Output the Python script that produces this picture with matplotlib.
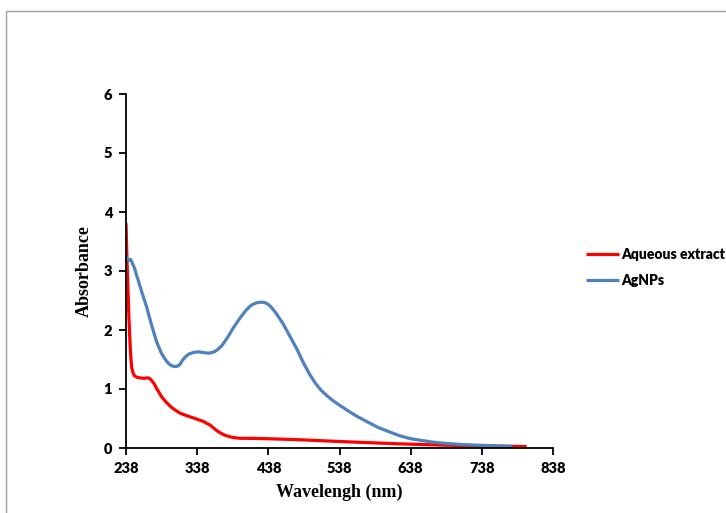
"""
Plot the UV-Vis absorbance spectra of the aqueous extract and the AgNPs.
"""

import matplotlib
matplotlib.use("Agg")
import matplotlib.pyplot as plt
from matplotlib.patches import Rectangle


extract_nm = [238, 239, 240, 241, 242, 243, 244, 245, 246, 248, 250, 253, 257,
	263, 269, 272, 275, 278, 281, 285, 288, 292, 295, 300, 305, 314, 325, 335,
	342, 347, 351, 356, 360, 365, 370, 376, 384, 390, 398, 430, 482, 538, 580,
	623, 680, 716, 760, 801]
extract_abs = [3.81, 3.35, 2.95, 2.6, 2.25, 1.95, 1.7, 1.5, 1.36, 1.27, 1.22,
	1.2, 1.19, 1.18, 1.19, 1.17, 1.13, 1.08, 1.01, 0.93, 0.87, 0.81, 0.77,
	0.71, 0.66, 0.59, 0.54, 0.5, 0.47, 0.45, 0.42, 0.39, 0.35, 0.3, 0.26, 0.22,
	0.19, 0.175, 0.165, 0.16, 0.14, 0.11, 0.09, 0.07, 0.05, 0.04, 0.03, 0.025]

agnp_nm = [238, 240, 242, 244, 246, 248, 250, 252, 255, 260, 267, 274, 281,
	288, 295, 299, 303, 307, 311, 314, 317, 321, 326, 333, 340, 346, 351, 356,
	362, 367, 373, 380, 389, 398, 407, 414, 421, 426, 431, 436, 441, 448, 459,
	468, 478, 487, 496, 504, 512, 520, 529, 540, 550, 562, 576, 592, 609, 622,
	637, 652, 669, 690, 716, 750, 781]
agnp_abs = [3.24, 3.2, 3.18, 3.2, 3.16, 3.1, 3.05, 2.96, 2.85, 2.65, 2.39,
	2.08, 1.8, 1.6, 1.47, 1.42, 1.39, 1.38, 1.39, 1.42, 1.48, 1.54, 1.59,
	1.62, 1.63, 1.62, 1.61, 1.61, 1.63, 1.67, 1.74, 1.86, 2.04, 2.2, 2.34,
	2.42, 2.46, 2.47, 2.47, 2.45, 2.4, 2.3, 2.1, 1.9, 1.68, 1.45, 1.25, 1.1,
	0.98, 0.89, 0.8, 0.71, 0.63, 0.54, 0.45, 0.35, 0.27, 0.21, 0.16, 0.13,
	0.1, 0.075, 0.055, 0.04, 0.03]

x_ticks = [238, 338, 438, 538, 638, 738, 838]
y_ticks = [0, 1, 2, 3, 4, 5, 6]


def main():
	"""
	Draw the chart and save it as out.png
	"""
	fig = plt.figure(figsize=(7.26, 5.13), dpi=100)
	# Grey frame round the chart area (open to the right and bottom)
	fig.patches.append(Rectangle(
		(6/726, -0.2), 2, 1.2 - 11/513,
		transform=fig.transFigure, fill=False, edgecolor="#a0a0a0", linewidth=1
	))
	ax = fig.add_axes([126/726, 1 - 448/513, 427/726, 354/513])
	ax.plot(extract_nm, extract_abs, color="#ff0000", linewidth=2.3,
		label="Aqueous extract", solid_capstyle="butt", solid_joinstyle="round")
	ax.plot(agnp_nm, agnp_abs, color="#4f81bd", linewidth=2.3,
		label="AgNPs", solid_capstyle="butt", solid_joinstyle="round")

	ax.set_xlim(238, 838)
	ax.set_ylim(0, 6)
	ax.set_xticks(x_ticks)
	ax.set_yticks(y_ticks)
	for side in ("top", "right"):
		ax.spines[side].set_visible(False)
	for side in ("left", "bottom"):
		ax.spines[side].set_linewidth(1.3)
	ax.tick_params(direction="out", length=5, width=1.3, pad=5)
	for label in ax.get_xticklabels() + ax.get_yticklabels():
		label.set_fontfamily("Lato")
		label.set_fontweight("heavy")
		label.set_fontsize(10.5)

	ax.set_xlabel("Wavelengh (nm)", fontfamily="Liberation Serif",
		fontweight="bold", fontsize=13, labelpad=6)
	ax.set_ylabel("Absorbance", fontfamily="Liberation Serif",
		fontweight="bold", fontsize=13, labelpad=8)

	fig.legend(
		loc="upper left", bbox_to_anchor=(580/726, 1 - 242/513),
		frameon=False, handlelength=2.4, handletextpad=0.15,
		labelspacing=0.95, borderaxespad=0,
		prop={"family": "Lato", "weight": "heavy", "size": 10}
	)

	fig.savefig("out.png", dpi=100)


if __name__ == "__main__":
	main()
